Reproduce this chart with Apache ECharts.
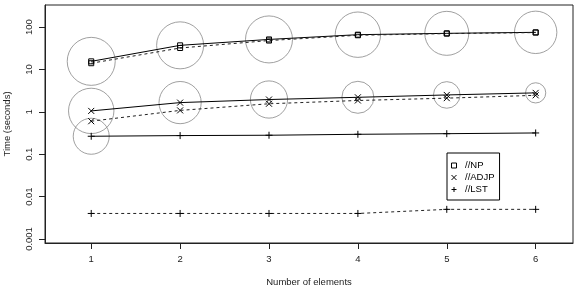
<!DOCTYPE html>
<html>
<head>
<meta charset="utf-8">
<script src="https://cdn.jsdelivr.net/npm/echarts@6/dist/echarts.min.js"></script>
<style>
    html, body { margin: 0; padding: 0; background: #fff; }
    #chart { width: 576px; height: 294px; }
</style>
</head>
<body>
<div id="chart"></div>
<script>
// 数据
var xs = [1, 2, 3, 4, 5, 6];
var npSolid = [15.5, 37, 51, 66, 71, 75];
var npDash = [14, 32, 48, 64, 70, 74];
var adjpSolid = [1.05, 1.65, 1.95, 2.2, 2.5, 2.8];
var adjpDash = [0.6, 1.08, 1.55, 1.85, 2.1, 2.45];
var lstSolid = [0.265, 0.275, 0.28, 0.295, 0.305, 0.317];
var lstDash = [0.004, 0.004, 0.004, 0.004, 0.005, 0.005];
// 圆圈大小（半径）
var npCircle = [24, 23.5, 23.5, 22.7, 22, 21.2];
var adjpCircle = [22.7, 21.1, 18.6, 16, 13.3, 10.1];
var lstCircle = [18, null, null, null, null, null];
var xTicks = [1, 2, 3, 4, 5, 6];
var yTicks = [0.001, 0.01, 0.1, 1, 10, 100];
var legendNames = ['//NP', '//ADJP', '//LST'];

var FONT = 'Liberation Sans, Arial, sans-serif';
var SYM_SQUARE = 'path://M0 0H10V10H0Z';
var SYM_CROSS = 'path://M0 0L10 10M10 0L0 10';
var SYM_PLUS = 'path://M5 0V10M0 5H10';

function pairs(ys) {
    var out = [];
    for (var i = 0; i < xs.length; i++) {
        out.push([xs[i], ys[i]]);
    }
    return out;
}

function circlePairs(ys, rs) {
    var out = [];
    for (var i = 0; i < xs.length; i++) {
        if (rs[i] != null) out.push([xs[i], ys[i], rs[i]]);
    }
    return out;
}

function lineSeries(name, ys, symbol, size, dashed) {
    return {
        name: name,
        type: 'line',
        data: pairs(ys),
        symbol: symbol,
        symbolSize: size,
        showSymbol: true,
        lineStyle: {color: dashed ? '#222' : '#000', width: 1, type: dashed ? [3, 3] : 'solid'},
        itemStyle: {color: 'rgba(0,0,0,0)', borderColor: '#000', borderWidth: 1},
        emphasis: {disabled: true},
        z: 3
    };
}

function circleSeries(ys, rs) {
    return {
        type: 'scatter',
        data: circlePairs(ys, rs),
        symbol: 'circle',
        symbolSize: function (v) { return v[2] * 2; },
        itemStyle: {color: 'rgba(0,0,0,0)', borderColor: '#888', borderWidth: 1},
        emphasis: {disabled: true},
        z: 2
    };
}

var myChart = echarts.init(document.getElementById('chart'));
var option = {
    animation: false,
    backgroundColor: '#fff',
    grid: {
        left: 45, right: 3, top: 5, bottom: 51,
        outerBoundsMode: 'none',
        containLabel: false,
        show: true, borderColor: '#222', borderWidth: 1, backgroundColor: 'transparent'
    },
    legend: {
        orient: 'vertical',
        left: 447, top: 153,
        padding: [7, 5, 5, 4],
        itemGap: 1,
        itemWidth: 12, itemHeight: 5,
        backgroundColor: '#fff',
        borderColor: '#000', borderWidth: 1,
        selectedMode: false,
        textStyle: {fontFamily: FONT, fontSize: 9.5, color: '#000', lineHeight: 11},
        itemStyle: {color: 'rgba(0,0,0,0)', borderColor: '#000', borderWidth: 1},
        data: [
            {name: legendNames[0], icon: SYM_SQUARE},
            {name: legendNames[1], icon: SYM_CROSS},
            {name: legendNames[2], icon: SYM_PLUS}
        ]
    },
    xAxis: {
        type: 'value',
        min: 0.48, max: 6.42,
        name: 'Number of elements',
        nameLocation: 'middle',
        nameGap: 34,
        nameTextStyle: {fontFamily: FONT, fontSize: 9.5, color: '#222'},
        axisLine: {show: true, lineStyle: {color: '#222', width: 1}},
        axisTick: {show: true, length: 6, lineStyle: {color: '#222'}, customValues: xTicks},
        axisLabel: {fontFamily: FONT, fontSize: 9.5, color: '#222', margin: 11, customValues: xTicks},
        splitLine: {show: false}
    },
    yAxis: {
        type: 'log',
        min: 0.000804, max: 331,
        name: 'Time (seconds)',
        nameLocation: 'middle',
        nameGap: 33,
        nameTextStyle: {fontFamily: FONT, fontSize: 9.5, color: '#222'},
        axisLine: {show: true, lineStyle: {color: '#222', width: 1}},
        axisTick: {show: true, length: 6, lineStyle: {color: '#222'}, customValues: yTicks},
        axisLabel: {
            fontFamily: FONT, fontSize: 9.5, color: '#222', margin: 11, rotate: 90,
            customValues: yTicks,
            formatter: function (v) { return String(v); }
        },
        splitLine: {show: false}
    },
    series: [
        circleSeries(npSolid, npCircle),
        circleSeries(adjpSolid, adjpCircle),
        circleSeries(lstSolid, lstCircle),
        lineSeries(legendNames[0], npSolid, SYM_SQUARE, 5, false),
        lineSeries(legendNames[0], npDash, SYM_SQUARE, 5, true),
        lineSeries(legendNames[1], adjpSolid, SYM_CROSS, 6, false),
        lineSeries(legendNames[1], adjpDash, SYM_CROSS, 6, true),
        lineSeries(legendNames[2], lstSolid, SYM_PLUS, 7, false),
        lineSeries(legendNames[2], lstDash, SYM_PLUS, 7, true)
    ]
};
myChart.setOption(option);
</script>
</body>
</html>
